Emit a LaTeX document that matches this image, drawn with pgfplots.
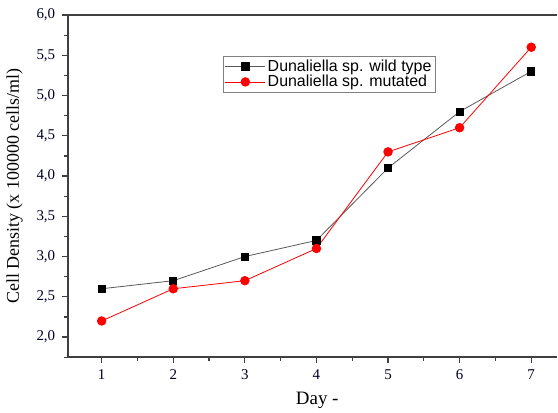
\documentclass[border=0pt]{standalone}
\usepackage{fontspec}
\setmainfont{Liberation Serif}
\newfontfamily\legfont{Liberation Sans}
\usepackage{pgfplots}
\pgfplotsset{compat=1.18}
\definecolor{axgray}{HTML}{404040}
\begin{document}
\begin{tikzpicture}
\begin{axis}[
  scale only axis,
  width=489bp, height=342bp,
  xmin=0.526, xmax=7.36,
  ymin=1.75, ymax=6.0,
  axis lines*=left,
  axis line style={axgray, line width=1.6bp},
  xtick={1,2,3,4,5,6,7},
  minor xtick={1.5,2.5,3.5,4.5,5.5,6.5},
  ytick={2,2.5,3,3.5,4,4.5,5,5.5,6},
  minor ytick={1.75,2.25,2.75,3.25,3.75,4.25,4.75,5.25,5.75},
  tick align=outside,
  major tick length=6bp, minor tick length=3.5bp,
  tick style={axgray, line width=1.2bp},
  /pgf/number format/assume math mode=true,
  yticklabel style={/pgf/number format/use comma, /pgf/number format/fixed, /pgf/number format/fixed zerofill, /pgf/number format/precision=1},
  ticklabel style={font=\fontsize{15}{18}\selectfont, text=black!85!blue},
  xticklabel style={yshift=-3bp},
  yticklabel style={xshift=-3bp},
  xlabel={Day -},
  ylabel={Cell Density (x 100000 cells/ml)},
  every axis x label/.style={at={(axis description cs:0.51,0)}, anchor=south, yshift=-55bp, font=\fontsize{19}{22}\selectfont},
  every axis y label/.style={at={([xshift=-53bp]axis description cs:0,0.5)}, anchor=center, rotate=90, font=\fontsize{18}{22}\selectfont},
  legend style={at={(axis description cs:0.3176,0.880)}, anchor=north west,
    draw=gray, line width=0.6bp, font=\legfont\fontsize{16}{18}\selectfont,
    inner sep=1.5bp, row sep=-1.5bp, cells={anchor=west}},
  legend image code/.code={\draw[mark repeat=2,mark phase=2,#1] plot coordinates {(0bp,0bp) (20bp,0bp) (40bp,0bp)};},
  clip=false,
]
\addplot[color=black!65, line width=0.8bp, mark=square*, mark size=3.6bp, mark options={fill=black, draw=black, solid}]
  coordinates {(1,2.6) (2,2.7) (3,3.0) (4,3.2) (5,4.1) (6,4.8) (7,5.3)};
\addlegendentry{Dunaliella sp. wild type}
\addplot[color=red, line width=0.8bp, mark=*, mark size=4.3bp, mark options={fill=red, draw=red, solid}]
  coordinates {(1,2.2) (2,2.6) (3,2.7) (4,3.1) (5,4.3) (6,4.6) (7,5.6)};
\addlegendentry{Dunaliella sp. mutated}
\draw[axgray, line width=1.6bp] (rel axis cs:0,1) -- (rel axis cs:1,1);
\path (rel axis cs:0,0) ++(-67.7bp,-55bp) coordinate (bbA);
\path (rel axis cs:1,1) ++(1bp,15bp) coordinate (bbB);
\end{axis}
\pgfresetboundingbox
\useasboundingbox (bbA) rectangle (bbB);
\end{tikzpicture}
\end{document}
